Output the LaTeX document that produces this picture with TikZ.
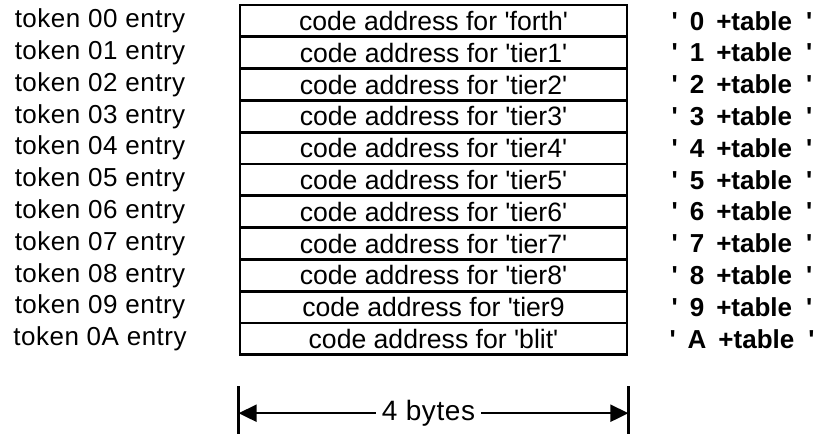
\documentclass[tikz,border=0pt]{standalone}
\usepackage{fontspec}
\newfontfamily\mapfont{Liberation Sans}
\newfontfamily\tokfont{Liberation Sans}[LetterSpace=2]
\usetikzlibrary{arrows.meta}
\newcommand{\tofs}[1]{'\hspace{6pt}#1\hspace{6pt}+table\hspace{7pt}'}

\begin{document}
\begin{tikzpicture}[node distance={15.9pt}, line width=1.4pt,
    cell/.style = {draw, minimum width=193.5pt, minimum height=15.9pt, inner sep=0pt, font=\mapfont\fontsize{13.3}{15}\selectfont},
    tok/.style = {node distance=166.75pt, inner sep=0pt, font=\tokfont\fontsize{13}{15}\selectfont},
    ofs/.style = {node distance=154.25pt, inner sep=0pt, font=\mapfont\bfseries\fontsize{13}{15}\selectfont}]
    \useasboundingbox (0,0) rectangle (411pt,-216.5pt);
    % table cells
    \node[cell] (c00) at (216.75pt,-10.45pt) {code address for 'forth'};
    \node[cell, below of=c00] (c01) {code address for 'tier1'};
    \node[cell, below of=c01] (c02) {code address for 'tier2'};
    \node[cell, below of=c02] (c03) {code address for 'tier3'};
    \node[cell, below of=c03] (c04) {code address for 'tier4'};
    \node[cell, below of=c04] (c05) {code address for 'tier5'};
    \node[cell, below of=c05] (c06) {code address for 'tier6'};
    \node[cell, below of=c06] (c07) {code address for 'tier7'};
    \node[cell, below of=c07] (c08) {code address for 'tier8'};
    \node[cell, below of=c08] (c09) {code address for 'tier9};
    \node[cell, below of=c09] (c10) {code address for 'blit'};
    % token labels
    \node[tok, left of=c00] (t00) {token 00 entry};
    \node[tok, left of=c01] (t01) {token 01 entry};
    \node[tok, left of=c02] (t02) {token 02 entry};
    \node[tok, left of=c03] (t03) {token 03 entry};
    \node[tok, left of=c04] (t04) {token 04 entry};
    \node[tok, left of=c05] (t05) {token 05 entry};
    \node[tok, left of=c06] (t06) {token 06 entry};
    \node[tok, left of=c07] (t07) {token 07 entry};
    \node[tok, left of=c08] (t08) {token 08 entry};
    \node[tok, left of=c09] (t09) {token 09 entry};
    \node[tok, left of=c10] (t10) {token 0A entry};
    % offsets
    \node[ofs, right of=c00] (o00) {\tofs{0}};
    \node[ofs, right of=c01] (o01) {\tofs{1}};
    \node[ofs, right of=c02] (o02) {\tofs{2}};
    \node[ofs, right of=c03] (o03) {\tofs{3}};
    \node[ofs, right of=c04] (o04) {\tofs{4}};
    \node[ofs, right of=c05] (o05) {\tofs{5}};
    \node[ofs, right of=c06] (o06) {\tofs{6}};
    \node[ofs, right of=c07] (o07) {\tofs{7}};
    \node[ofs, right of=c08] (o08) {\tofs{8}};
    \node[ofs, right of=c09] (o09) {\tofs{9}};
    \node[ofs, right of=c10] (o10) {\tofs{A}};
    % width marker
    \coordinate (lt) at ([yshift=-15pt]c10.south west);
    \coordinate (lb) at ([yshift=-39pt]c10.south west);
    \coordinate (la) at ([yshift=-28.5pt]c10.south west);
    \coordinate (rt) at ([yshift=-15pt]c10.south east);
    \coordinate (rb) at ([yshift=-39pt]c10.south east);
    \coordinate (ra) at ([yshift=-28.5pt]c10.south east);
    \node[inner sep=2.5pt, font=\tokfont\fontsize{14}{16}\selectfont] (bytes) at ([yshift=-28.5pt,xshift=-2.5pt]c10.south) {4 bytes};
    \draw (lt) -- (lb);
    \draw (rt) -- (rb);
    \draw[line width=1.1pt, -{Triangle[length=9pt,width=8.5pt]}] (bytes) -- (la);
    \draw[line width=1.1pt, -{Triangle[length=9pt,width=8.5pt]}] (bytes) -- (ra);
\end{tikzpicture}
\end{document}
